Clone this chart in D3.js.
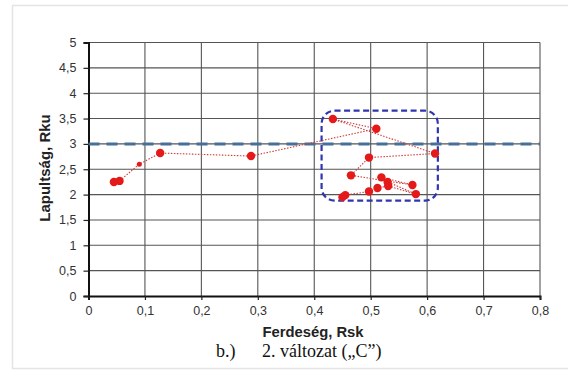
<!DOCTYPE html>
<html>
<head>
<meta charset="utf-8">
<script src="https://cdn.jsdelivr.net/npm/d3@7"></script>
<style>
  html, body { margin: 0; padding: 0; background: #fff; }
  svg { display: block; }
</style>
</head>
<body>
<svg id="chart" width="568" height="370"></svg>
<script>
// Skewness (Rsk) and kurtosis (Rku) of the measured surfaces, in measurement order
const skew = [0.045, 0.055, 0.09, 0.127, 0.288, 0.51, 0.433, 0.614, 0.497, 0.465, 0.574, 0.519, 0.53, 0.58, 0.531, 0.512, 0.497, 0.455, 0.45];
const kurt = [2.25, 2.27, 2.6, 2.82, 2.76, 3.3, 3.49, 2.81, 2.73, 2.38, 2.19, 2.34, 2.25, 2.01, 2.17, 2.13, 2.06, 1.99, 1.95];
// Points drawn with a small marker
const smallMarks = [2];

const xTicks = [0, 0.1, 0.2, 0.3, 0.4, 0.5, 0.6, 0.7, 0.8];
const yTicks = [0, 0.5, 1, 1.5, 2, 2.5, 3, 3.5, 4, 4.5, 5];
const gaussKurt = 3;                  // reference kurtosis of a normal distribution
const clusterSkew = [0.413, 0.619];   // highlighted region
const clusterKurt = [1.88, 3.655];

const xTitle = "Ferdeség, Rsk";
const yTitle = "Lapultság, Rku";
const capLetter = "b.)";
const capText = "2. változat (\u201EC\u201D)";

const fmt = v => String(v).replace(".", ",");
const sans = "'Liberation Sans', Arial, sans-serif";
const serif = "'Liberation Serif', 'Times New Roman', serif";

const svg = d3.select("#chart");
const x = d3.scaleLinear().domain([0, 0.8]).range([88.5, 540]);
const y = d3.scaleLinear().domain([0, 5]).range([296, 42.5]);

// outer frame
svg.append("rect").attr("x", 12.5).attr("y", 5.5).attr("width", 600).attr("height", 363)
  .attr("fill", "none").attr("stroke", "#e4e4e4").attr("stroke-width", 1.5);

// grid
const grid = svg.append("g");
grid.selectAll("line.h").data(yTicks.filter(d => d > 0)).join("line")
  .attr("x1", x(0)).attr("x2", x(0.8)).attr("y1", d => y(d)).attr("y2", d => y(d))
  .attr("stroke", "#555").attr("stroke-width", 1.1);
grid.selectAll("line.v").data(xTicks.filter(d => d > 0)).join("line")
  .attr("y1", y(0)).attr("y2", y(5)).attr("x1", d => x(d)).attr("x2", d => x(d))
  .attr("stroke", "#555").attr("stroke-width", 1.1);

// axes
const xAxis = svg.append("g").attr("transform", `translate(0,${y(0)})`)
  .call(d3.axisBottom(x).tickValues(xTicks).tickFormat(fmt).tickSize(4).tickPadding(6));
const yAxis = svg.append("g").attr("transform", `translate(${x(0)},0)`)
  .call(d3.axisLeft(y).tickValues(yTicks).tickFormat(fmt).tickSize(5).tickPadding(7));
[xAxis, yAxis].forEach(g => {
  g.select(".domain").attr("stroke", "#111").attr("stroke-width", 2);
  g.selectAll(".tick line").attr("stroke", "#222").attr("stroke-width", 1.2);
  g.selectAll(".tick text").attr("font-family", sans)
    .attr("font-size", 12.5).attr("fill", "#333");
});

// reference line Rku = 3
svg.append("line").attr("x1", x(0)).attr("x2", x(0.8)).attr("y1", y(gaussKurt)).attr("y2", y(gaussKurt))
  .attr("stroke", "#46709a").attr("stroke-width", 3).attr("stroke-dasharray", "11,7");

// highlighted cluster
svg.append("rect")
  .attr("x", x(clusterSkew[0])).attr("y", y(clusterKurt[1]))
  .attr("width", x(clusterSkew[1]) - x(clusterSkew[0]))
  .attr("height", y(clusterKurt[0]) - y(clusterKurt[1]))
  .attr("rx", 13).attr("ry", 13)
  .attr("fill", "none").attr("stroke", "#2f36b0").attr("stroke-width", 2.2)
  .attr("stroke-dasharray", "6,3.5");

// measured series
const pts = skew.map((s, i) => ({ s, k: kurt[i], i }));
svg.append("path").datum(pts)
  .attr("d", d3.line().x(d => x(d.s)).y(d => y(d.k)))
  .attr("fill", "none").attr("stroke", "#d23a3a").attr("stroke-width", 1.1)
  .attr("stroke-dasharray", "1.5,1.5");
svg.selectAll("circle.pt").data(pts).join("circle")
  .attr("cx", d => x(d.s)).attr("cy", d => y(d.k))
  .attr("r", d => smallMarks.includes(d.i) ? 2.5 : 4.2)
  .attr("fill", "#e41a1a");

// titles
svg.append("text").attr("x", 313).attr("y", 337).attr("text-anchor", "middle")
  .attr("font-family", sans).attr("font-weight", "bold")
  .attr("font-size", 14.8).attr("fill", "#222").text(xTitle);
svg.append("text").attr("transform", "translate(50,168) rotate(-90)").attr("text-anchor", "middle")
  .attr("font-family", sans).attr("font-weight", "bold")
  .attr("font-size", 15).attr("fill", "#222").text(yTitle);

// caption
const cap = svg.append("text").attr("y", 357)
  .attr("font-family", serif).attr("font-size", 18).attr("fill", "#111");
cap.append("tspan").attr("x", 216).text(capLetter);
cap.append("tspan").attr("x", 262).text(capText);
</script>
</body>
</html>
